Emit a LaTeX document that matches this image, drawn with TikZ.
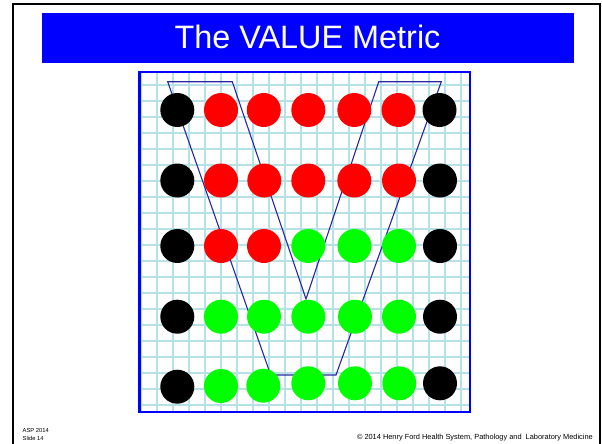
\documentclass[tikz,border=0pt]{standalone}
\usepackage{fontspec}
\setmainfont{Liberation Sans}
\definecolor{gridcol}{RGB}{182,225,230}
\definecolor{vline}{RGB}{40,40,160}
\definecolor{brightgreen}{RGB}{0,255,0}
\begin{document}
\begin{tikzpicture}[x=1pt,y=-1pt,
  dot/.style={circle, minimum size=34pt, inner sep=0pt, draw=none},
  reddot/.style={dot, fill=red},
  greendot/.style={dot, fill=brightgreen},
  blackdot/.style={dot, fill=black},
  gridline/.style={draw=gridcol, line width=1.75pt},
  footer/.style={inner sep=0pt, font=\fontsize{5.8}{6}\selectfont},
]
\useasboundingbox (0,0) rectangle (602,444);
\begin{scope}
\clip (0,0) rectangle (602,444);
\fill[white] (0,0) rectangle (602,444);
% outer frame
\draw[black, line width=2pt] (13,4) rectangle (600,470);
\end{scope}
% title bar
\node[fill=blue, minimum width=532pt, minimum height=49.7pt, inner sep=0pt] (titlebar) at (308,37.85) {};
\node[anchor=base, inner sep=0pt, text=white, font=\fontsize{32.4}{36}\selectfont] (title) at (307.5,48.3) {The VALUE Metric};
% grid
\fill[white] (139.5,72) rectangle (470,412);
\foreach \i in {0,...,19} {
  \draw[gridline] ({157.3+16*\i},72) -- ({157.3+16*\i},412);
}
\draw[gridline] (141.3,72) -- (141.3,412);
\foreach \j in {0,...,20} {
  \draw[gridline] (139.5,{85.3+16*\j}) -- (470,{85.3+16*\j});
}
\draw[blue, line width=2.5pt] (139.5,72) rectangle (470,412);
% V outline
\draw[vline, line width=1.1pt, line join=miter]
  (167.7,81.7) -- (232.3,81.7) -- (306,299) -- (378.7,81.7) -- (441.3,81.7)
  -- (336,375) -- (270.7,375) -- cycle;
% row 1
\node[blackdot] (a1) at (177.3,110) {};
\node[reddot] (a2) at (221,110) {};
\node[reddot] (a3) at (263.8,110) {};
\node[reddot] (a4) at (308.3,110) {};
\node[reddot] (a5) at (354.3,110) {};
\node[reddot] (a6) at (398.5,110) {};
\node[blackdot] (a7) at (439.5,110) {};
% row 2
\node[blackdot] (b1) at (177.3,180.5) {};
\node[reddot] (b2) at (221,180.5) {};
\node[reddot] (b3) at (264.3,180.5) {};
\node[reddot] (b4) at (308.3,180.5) {};
\node[reddot] (b5) at (354.3,180.5) {};
\node[reddot] (b6) at (399,180.5) {};
\node[blackdot] (b7) at (440,180.5) {};
% row 3
\node[blackdot] (c1) at (177.3,246) {};
\node[reddot] (c2) at (221,246) {};
\node[reddot] (c3) at (264,246) {};
\node[greendot] (c4) at (308.3,246) {};
\node[greendot] (c5) at (354.5,246) {};
\node[greendot] (c6) at (399,246) {};
\node[blackdot] (c7) at (440,246) {};
% row 4
\node[blackdot] (d1) at (177.3,316.7) {};
\node[greendot] (d2) at (221,316.7) {};
\node[greendot] (d3) at (264,316.7) {};
\node[greendot] (d4) at (308.3,316.7) {};
\node[greendot] (d5) at (355,316.7) {};
\node[greendot] (d6) at (399,316.7) {};
\node[blackdot] (d7) at (440,316.7) {};
% row 5
\node[blackdot] (e1) at (177.3,386.7) {};
\node[greendot] (e2) at (221,386) {};
\node[greendot] (e3) at (263.3,385.7) {};
\node[greendot] (e4) at (308.3,383.3) {};
\node[greendot] (e5) at (355,383.3) {};
\node[greendot] (e6) at (399.3,383.3) {};
\node[blackdot] (e7) at (440,383.3) {};
% footer
\node[footer, anchor=west] (asp) at (22.5,430.5) {ASP 2014};
\node[footer, anchor=west] (slide) at (22.5,438.5) {Slide 14};
\node[inner sep=0pt, anchor=east, font=\fontsize{7.4}{8}\selectfont] (copy) at (593,438) {© 2014 Henry Ford Health System, Pathology and\ \ Laboratory Medicine};
\end{tikzpicture}
\end{document}
